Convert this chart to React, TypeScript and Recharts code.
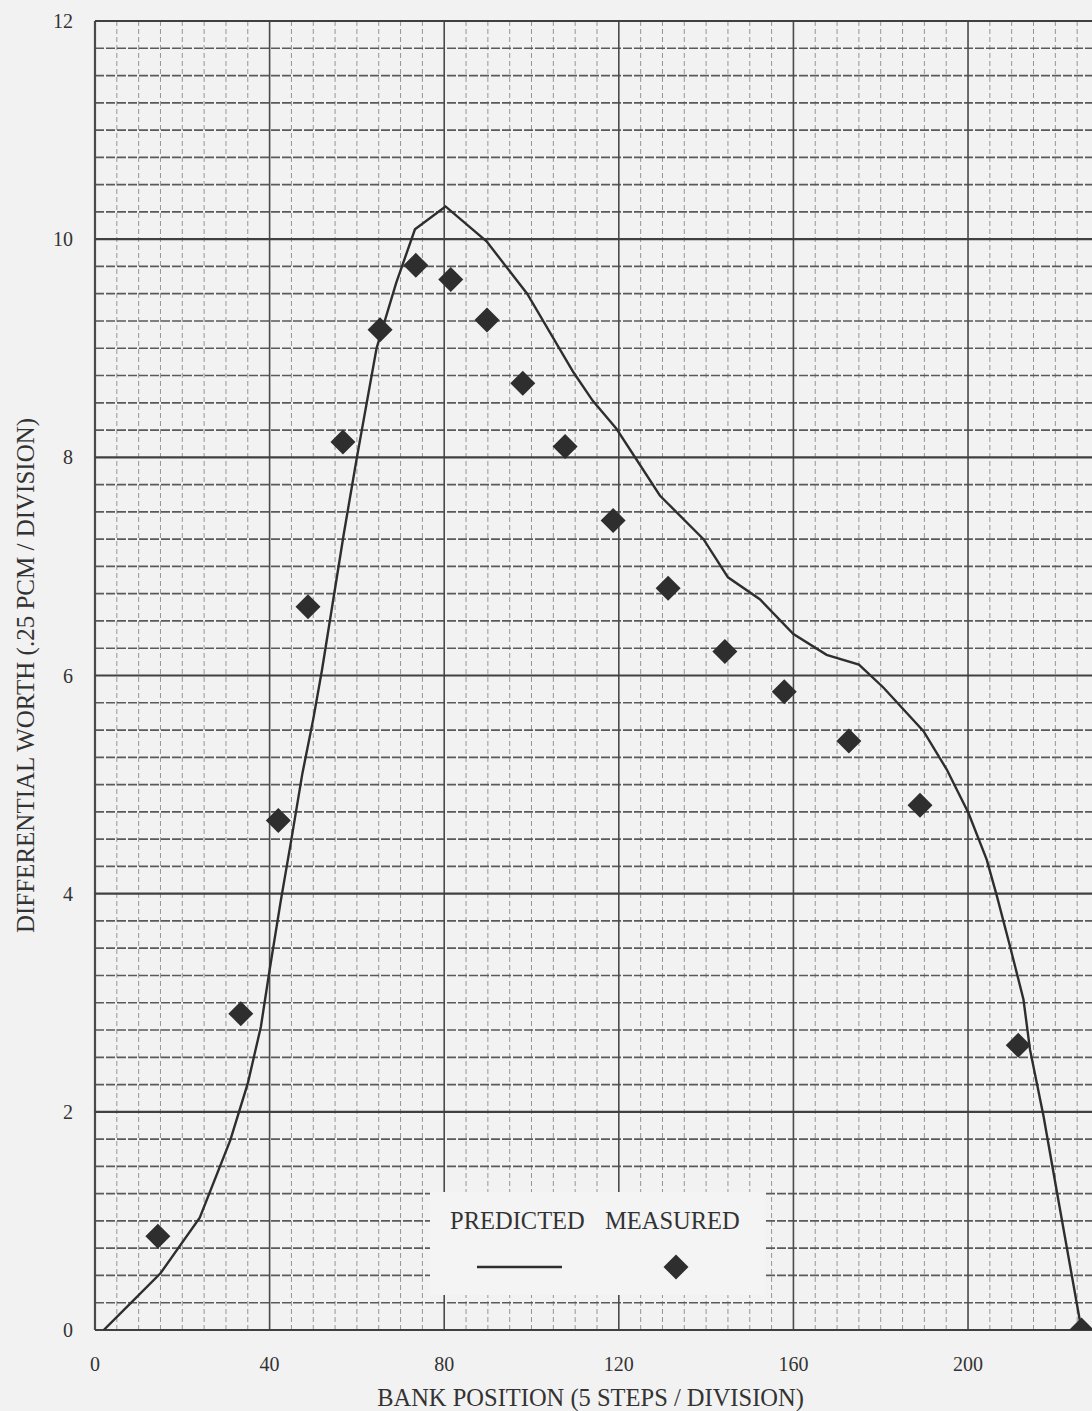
import React from 'react';
import { ComposedChart, Line, Scatter, XAxis, YAxis, ReferenceLine, Legend } from 'recharts';

// predicted differential worth curve (bank position, worth)
const predictedPos = [2, 8, 15, 24, 31, 35, 38, 40, 42.5, 45, 47.5, 50, 52, 57, 60, 64.5, 69, 73.3, 80.3, 89.7, 99, 109.6, 114, 119.5, 129.4, 139.4, 145, 152.3, 160, 167.6, 175, 180.6, 189.8, 195.1, 200.1, 204.3, 206.6, 209.6, 212.7, 214.2, 217.3, 220.7, 226];
const predictedWorth = [0, 0.24, 0.52, 1.03, 1.74, 2.26, 2.78, 3.3, 3.92, 4.5, 5.1, 5.6, 6.05, 7.3, 8.0, 9.0, 9.6, 10.09, 10.3, 9.98, 9.5, 8.78, 8.52, 8.26, 7.65, 7.25, 6.9, 6.7, 6.38, 6.19, 6.1, 5.89, 5.49, 5.14, 4.74, 4.31, 3.98, 3.52, 3.03, 2.57, 1.96, 1.19, 0];

// measured points
const measuredPos = [14.4, 33.4, 42, 48.8, 56.8, 65.3, 73.5, 81.5, 89.8, 98, 107.7, 118.7, 131.3, 144.3, 157.9, 172.7, 189, 211.5, 226];
const measuredWorth = [0.86, 2.9, 4.67, 6.63, 8.14, 9.17, 9.76, 9.63, 9.26, 8.68, 8.1, 7.42, 6.8, 6.22, 5.85, 5.4, 4.81, 2.61, 0];

const xTicks = [0, 40, 80, 120, 160, 200];
const yTicks = [0, 2, 4, 6, 8, 10, 12];
const xMax = 228.4;

const predicted = predictedPos.map((x, i) => ({ x, y: predictedWorth[i] }));
const measured = measuredPos.map((x, i) => ({ x, y: measuredWorth[i] }));

// graph paper: 5 steps per vertical division, .25 per horizontal division
const vMinor = Array.from({ length: 46 }, (_, i) => i * 5).filter((v) => v % 40 !== 0);
const hMinor = Array.from({ length: 48 }, (_, i) => i * 0.25).filter((v) => v % 2 !== 0);

const FONT = '"Liberation Serif", "Times New Roman", serif';
const INK = '#2e2e2e';

const Diamond = (props: any) => {
  const { cx, cy } = props;
  const r = 12.5;
  return <path d={`M${cx},${cy - r}L${cx + r},${cy}L${cx},${cy + r}L${cx - r},${cy}Z`} fill={INK} />;
};

const LegendBox = () => (
  <div style={{ position: 'relative', width: 335, height: 103, background: '#f4f4f4', fontFamily: FONT, color: '#333' }}>
    <span style={{ position: 'absolute', left: 20, top: 15, fontSize: 24.5, whiteSpace: 'nowrap' }}>PREDICTED</span>
    <span style={{ position: 'absolute', left: 175, top: 15, fontSize: 24.5, whiteSpace: 'nowrap' }}>MEASURED</span>
    <svg width={335} height={103} style={{ position: 'absolute', left: 0, top: 0 }}>
      <line x1={47} x2={132} y1={75} y2={75} stroke={INK} strokeWidth={2.5} />
      <Diamond cx={246} cy={75} />
    </svg>
  </div>
);

const yTitle = (p: any) => {
  const vb = p.viewBox;
  const cx = 25;
  const cy = vb.y + vb.height / 2;
  return (
    <text x={cx} y={cy} transform={`rotate(-90 ${cx} ${cy})`} textAnchor="middle" dominantBaseline="central"
      fontSize={25} fontFamily={FONT} fill="#333">
      DIFFERENTIAL WORTH (.25 PCM / DIVISION)
    </text>
  );
};

const xTitle = (p: any) => {
  const vb = p.viewBox;
  return (
    <text x={vb.x + vb.width / 2 - 3} y={vb.y + 67} textAnchor="middle" dominantBaseline="central"
      fontSize={24.5} fontFamily={FONT} fill="#333">
      BANK POSITION (5 STEPS / DIVISION)
    </text>
  );
};

export default function App() {
  return (
    <div style={{ width: 1092, height: 1411, background: '#f2f2f2', position: 'relative' }}>
      <style>{'body{margin:0}'}</style>
      <ComposedChart width={1092} height={1411} margin={{ top: 21, right: 0, bottom: 31, left: 35 }}>
        <XAxis type="number" dataKey="x" domain={[0, xMax]} ticks={xTicks} allowDataOverflow
          axisLine={false} tickLine={false} tickSize={0} tickMargin={27} height={50}
          tick={{ fontSize: 20, fontFamily: FONT, fill: '#333' }} label={xTitle} />
        <YAxis type="number" dataKey="y" domain={[0, 12]} ticks={yTicks} allowDataOverflow
          axisLine={false} tickLine={false} tickSize={0} tickMargin={22} width={60}
          tick={{ fontSize: 20, fontFamily: FONT, fill: '#333' }} label={yTitle} />

        {vMinor.map((v) => (
          <ReferenceLine key={'vm' + v} x={v} stroke="#959595" strokeWidth={1} strokeDasharray="5 3" />
        ))}
        {hMinor.map((v) => (
          <ReferenceLine key={'hm' + v} y={v} stroke="#5a5a5a" strokeWidth={1.7} strokeDasharray="9 2" />
        ))}
        {xTicks.map((v) => (
          <ReferenceLine key={'vM' + v} x={v} stroke="#4a4a4a" strokeWidth={v === 0 ? 2.2 : 1.6} />
        ))}
        {yTicks.map((v) => (
          <ReferenceLine key={'hM' + v} y={v} stroke="#404040" strokeWidth={2.2} />
        ))}

        <Line data={predicted} dataKey="y" type="linear" stroke={INK} strokeWidth={2.4} dot={false}
          isAnimationActive={false} legendType="none" />
        <Scatter data={measured} dataKey="y" shape={Diamond} isAnimationActive={false} legendType="none" />

        <Legend layout="horizontal" verticalAlign="middle" align="center" content={LegendBox}
          wrapperStyle={{ left: 430, top: 1192, width: 335, height: 103 }} />
      </ComposedChart>
    </div>
  );
}
